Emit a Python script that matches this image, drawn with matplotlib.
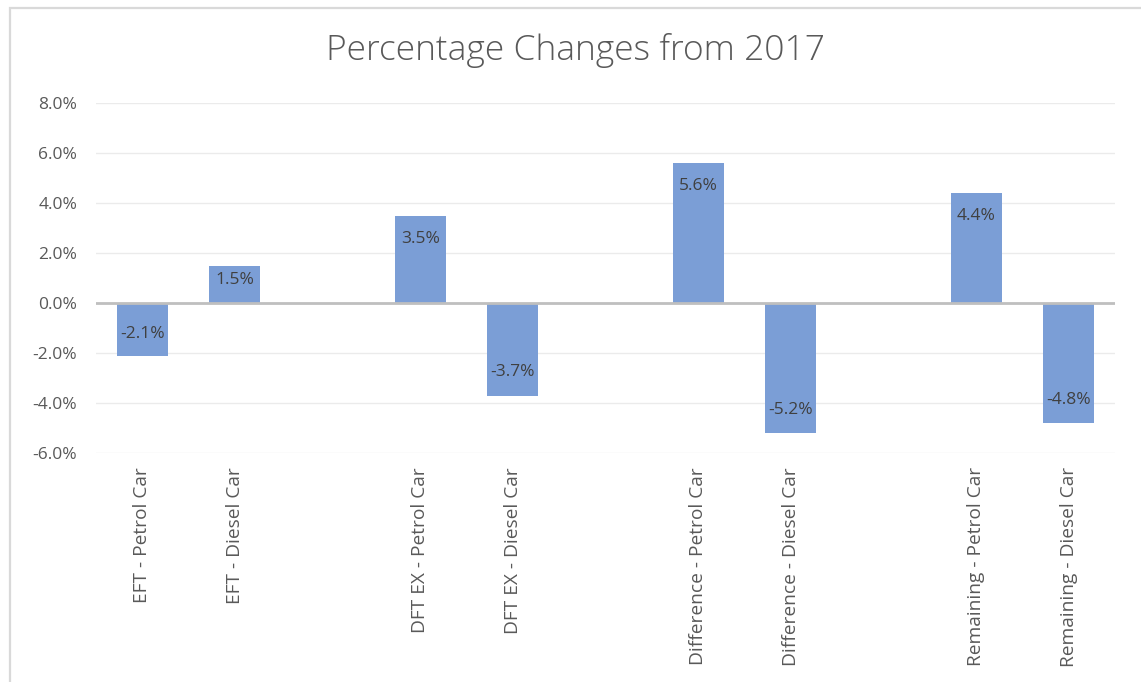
import matplotlib
matplotlib.use("Agg")
import matplotlib.pyplot as plt
from matplotlib.patches import Rectangle

categories = ["EFT - Petrol Car", "EFT - Diesel Car", "",
              "DFT EX - Petrol Car", "DFT EX - Diesel Car", "",
              "Difference - Petrol Car", "Difference - Diesel Car", "",
              "Remaining - Petrol Car", "Remaining - Diesel Car"]
values = [-0.021, 0.015, None,
          0.035, -0.037, None,
          0.056, -0.052, None,
          0.044, -0.048]
yticks = [-0.06, -0.04, -0.02, 0.0, 0.02, 0.04, 0.06, 0.08]
title = "Percentage Changes from 2017"

plt.rcParams['font.family'] = ['Open Sans', 'DejaVu Sans']

W, H = 1141, 682
fig = plt.figure(figsize=(W / 100, H / 100), dpi=100)
fig.patch.set_facecolor("white")

# outer chart border
fig.add_artist(Rectangle((10 / W, -0.05), 1.2, 1 - 8 / H + 0.05,
                         transform=fig.transFigure, fill=False,
                         edgecolor="#D9D9D9", linewidth=1.6))

left, right = 96 / W, 1115 / W
bottom, top = 1 - 453 / H, 1 - 103 / H
ax = fig.add_axes([left, bottom, right - left, top - bottom])

xs = list(range(len(categories)))
bx = [x for x, v in zip(xs, values) if v is not None]
bv = [v for v in values if v is not None]
ax.bar(bx, bv, width=0.55, color="#7B9ED6", zorder=3)

ax.set_xlim(-0.5, len(categories) - 0.5)
ax.set_ylim(-0.06, 0.08)
ax.set_yticks(yticks)
ax.set_yticklabels([f"{t*100:.1f}%" for t in yticks], color="#595959", fontsize=12.5)
ax.grid(axis="y", color="#EBEBEB", linewidth=1.0, zorder=0)
ax.axhline(0, color="#BFBFBF", linewidth=2.0, zorder=4)

ax.set_xticks(xs)
ax.set_xticklabels(categories, rotation=90, va="top", ha="center",
                   color="#595959", fontsize=13.8)
ax.tick_params(axis="both", length=0)
ax.tick_params(axis="x", pad=10)
ax.tick_params(axis="y", pad=13.5)

for s in ax.spines.values():
    s.set_visible(False)

for x, v in zip(bx, bv):
    d = min(0.0093, abs(v) * 0.4)
    off = -d if v > 0 else d
    ax.text(x, v + off, f"{v*100:.1f}%", ha="center", va="center",
            color="#404040", fontsize=12.5, zorder=5)

fig.text(575 / W, 1 - 51 / H, title, ha="center", va="center",
         color="#595959", fontsize=25.5, fontweight="light")

fig.savefig("out.png", dpi=100)
